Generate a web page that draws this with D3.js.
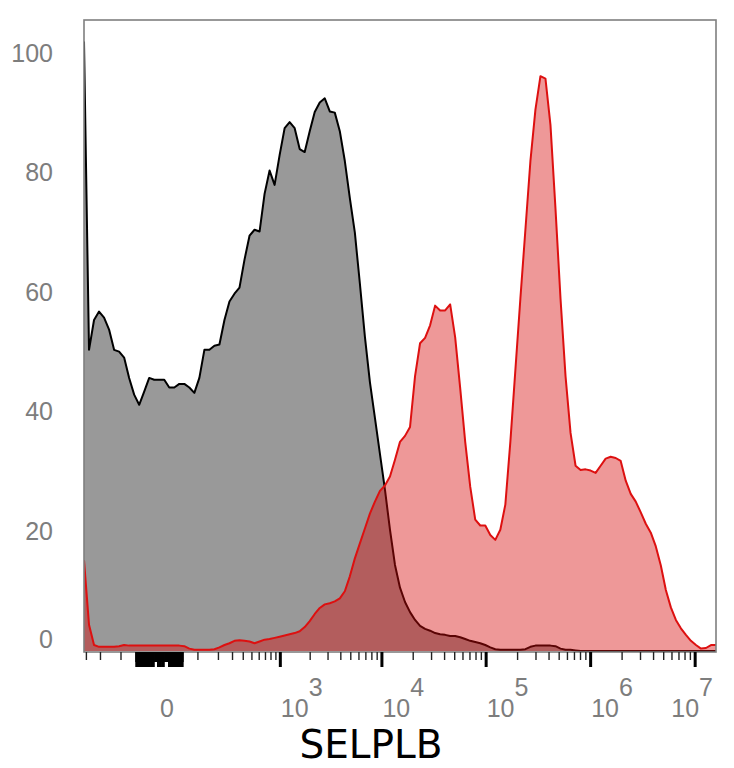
<!DOCTYPE html>
<html>

<head>
    <meta charset="utf-8" />
    <title>SELPLB histogram</title>
    <script src="https://cdn.jsdelivr.net/npm/d3@7/dist/d3.min.js" charset="utf-8"></script>

    <style type="text/css">
        body {
            margin: 0;
            background: #fff;
        }

        #chart .frame {
            fill: none;
            stroke: #7f7f7f;
            stroke-width: 1.6px;
        }

        #chart .y-axis text {
            font-family: "Liberation Sans", Arial, sans-serif;
            font-size: 25px;
            fill: #7d7d7d;
        }

        #chart .x-label {
            font-family: "Liberation Sans", Arial, sans-serif;
            font-size: 25px;
            fill: #7d7d7d;
        }

        #chart .title {
            font-family: "DejaVu Sans", sans-serif;
            font-size: 39px;
            fill: #000;
        }
    </style>
</head>

<body>

    <div id="chart"></div>

    <script>
        // Histogram counts (% of max) per display channel, channels evenly spaced on the biex axis:
        var greyCounts = [
            102, 50.4, 55.4, 56.8, 55.8, 53.8, 50.4, 50.1, 49.1, 45.7,
            42.9, 41.2, 43.4, 45.7, 45.4, 45.4, 45.4, 44.1, 44.1, 44.7,
            44.7, 44.1, 43.2, 45.7, 50.4, 50.4, 51.1, 51.3, 55.4, 58.5,
            59.8, 60.8, 65.5, 69.5, 70.5, 70.2, 76.5, 80.4, 78, 83,
            87.5, 88.5, 87.5, 84, 83.5, 87, 90.2, 91.8, 92.5, 90.3,
            90.1, 87, 82, 75.8, 70, 61.5, 52.6, 45, 39, 33,
            27, 20.3, 14.4, 10.6, 8.2, 6.5, 5.2, 4.2, 3.7, 3.4,
            3, 2.8, 2.7, 2.5, 2.5, 2.3, 2, 1.7, 1.5, 1.3,
            1, 0.6, 0.3, 0.2, 0.2, 0.2, 0.2, 0.2, 0.3, 0.7,
            0.9, 0.9, 0.9, 0.9, 0.8, 0.4, 0.2, 0.2, 0.1, 0,
            0, 0, 0, 0, 0, 0, 0, 0, 0, 0,
            0, 0, 0, 0, 0, 0, 0, 0, 0, 0,
            0, 0, 0, 0, 0, 0, 0
        ]

        var redCounts = [
            15.2, 4.4, 1.0, 0.7, 0.7, 0.7, 0.7, 0.8, 1.0, 0.9,
            0.9, 0.9, 0.9, 0.9, 0.9, 0.9, 0.9, 0.9, 0.9, 0.9,
            0.8, 0.4, 0.2, 0.2, 0.2, 0.2, 0.3, 0.6, 1.0, 1.3,
            1.7, 1.8, 1.7, 1.6, 1.3, 1.6, 1.9, 2.0, 2.2, 2.4,
            2.6, 2.8, 3.0, 3.3, 4.0, 5.0, 6.2, 7.2, 7.8, 8.0,
            8.3, 8.8, 10, 12.5, 15.5, 18, 20.5, 23, 25, 26.8,
            27.7, 29.2, 32, 35, 36, 37.5, 46, 51.5, 52.4, 54.5,
            57.8, 57, 57, 58, 52.5, 44, 35, 27.5, 22, 21,
            21, 19.4, 18.6, 20.3, 24.5, 35, 47, 59, 70.5, 82,
            90.6, 96.2, 95.8, 88, 74, 59, 46, 36.5, 31, 30.3,
            30.4, 30.2, 29.8, 31, 32.2, 32.5, 32.3, 31.8, 28.5, 26.3,
            25, 23.2, 21.3, 19.8, 17.5, 14.3, 10.2, 7.3, 5.2, 3.8,
            2.7, 1.7, 1.0, 0.4, 0.5, 1.0, 1.0
        ]

        // Axis values:
        var yTicks = [0, 20, 40, 60, 80, 100]
        var xLabelTicks = [0, 1e3, 1e4, 1e5, 1e6, 1e7]
        var xNegativeTicks = [-300, -200, -100]
        var xLinearTicks = d3.range(-50, 50.1, 2.5)
        var xLinearShort = [-7.5, -5, 10, 12.5, 15]
        var decades = [2, 3, 4, 5, 6]
        var axisTitle = "SELPLB"

        // Dimensions:
        var width = 734,
            height = 768,
            plot = { left: 84, right: 716, top: 20, bottom: 652 }

        // Scales: biex-like display (symlog) for the values, channels are evenly spaced on it
        var xAxisScale = d3.scaleSymlog()
            .constant(75)
            .domain([-316, 1.6e7])
            .range([plot.left, plot.right])

        var x = d3.scaleLinear()
            .domain([0, greyCounts.length - 1])
            .range(xAxisScale.range())

        var y = d3.scaleLinear()
            .domain([0, 105.6])
            .range([plot.bottom - 1, plot.top])

        // Minor ticks 1..9 x 10^k, dropping the ones that carry a label:
        var xMinorTicks = []
        decades.forEach(function(k) {
            d3.range(1, 10).forEach(function(m) {
                if (k == 2 || m > 1) xMinorTicks.push(m * Math.pow(10, k))
            })
        })
        xMinorTicks = xMinorTicks.concat(xNegativeTicks)

        // Area + line generators:
        var area = d3.area()
            .x(function(d, i) { return x(i) })
            .y0(y(0))
            .y1(function(d) { return y(d) })

        var line = d3.line()
            .x(function(d, i) { return x(i) })
            .y(function(d) { return y(d) })

        // Create chart:
        var svg = d3.select("#chart")
            .append("svg")
            .attr("width", width)
            .attr("height", height)

        svg.append("clipPath").attr("id", "plot-clip")
            .append("rect")
            .attr("x", plot.left)
            .attr("y", plot.top)
            .attr("width", plot.right - plot.left)
            .attr("height", plot.bottom - plot.top)

        var g = svg.append("g").attr("clip-path", "url(#plot-clip)")

        // Control histogram (grey) underneath:
        g.append("path")
            .datum(greyCounts)
            .attr("d", area)
            .attr("fill", "#999999")

        g.append("path")
            .datum(greyCounts)
            .attr("d", line)
            .attr("fill", "none")
            .attr("stroke", "#000")
            .attr("stroke-width", 2)
            .attr("stroke-linejoin", "round")

        // Stained histogram (red) on top, translucent:
        g.append("path")
            .datum(redCounts)
            .attr("d", area)
            .attr("fill", "rgba(215, 10, 10, 0.42)")

        g.append("path")
            .datum(redCounts)
            .attr("d", line)
            .attr("fill", "none")
            .attr("stroke", "#dd1010")
            .attr("stroke-width", 2)
            .attr("stroke-linejoin", "round")

        // Frame:
        svg.append("rect")
            .attr("class", "frame")
            .attr("x", plot.left)
            .attr("y", plot.top)
            .attr("width", plot.right - plot.left)
            .attr("height", plot.bottom - plot.top)

        // X ticks (layers: minor, linear cluster around zero, decades):
        function tickLayer(values, size, strokeWidth, colour) {
            var axis = svg.append("g")
                .attr("transform", "translate(0, " + plot.bottom + ")")
                .call(d3.axisBottom(xAxisScale)
                    .tickValues(values)
                    .tickSize(size)
                    .tickFormat(""))
            axis.select(".domain").remove()
            axis.selectAll(".tick line")
                .attr("stroke", colour)
                .attr("stroke-width", strokeWidth)
            return axis
        }

        tickLayer(xMinorTicks, 8, 1.4, "#222")
        tickLayer(xLinearTicks, 10, 2, "#000")
        tickLayer(xLinearTicks.filter(function(v) { return xLinearShort.indexOf(v) < 0 }), 15, 2, "#000")
        tickLayer(xLabelTicks.slice(1), 15, 3, "#000")

        // X tick labels with superscript exponents:
        var labels = svg.append("g")
        xLabelTicks.forEach(function(v, i) {
            var last = i == xLabelTicks.length - 1
            var t = labels.append("text")
                .attr("class", "x-label")
                .attr("x", last ? plot.right - 3 : xAxisScale(v) + 1)
                .attr("y", 717)
                .attr("text-anchor", last ? "end" : "start")
            if (v == 0) {
                t.text("0")
            } else {
                t.append("tspan").text("10")
                t.append("tspan")
                    .attr("dy", -21)
                    .text(Math.round(Math.log10(v)))
            }
        })

        // Y axis (labels only):
        var yAxis = svg.append("g")
            .attr("class", "y-axis")
            .attr("transform", "translate(" + plot.left + ", 0)")
            .call(d3.axisLeft(y).tickValues(yTicks).tickSize(0).tickPadding(31))
        yAxis.select(".domain").remove()
        yAxis.selectAll(".tick")
            .filter(function(d) { return d == 0 })
            .select("text")
            .attr("y", -12)

        // Axis title:
        svg.append("text")
            .attr("class", "title")
            .attr("x", 371)
            .attr("y", 758)
            .attr("text-anchor", "middle")
            .text(axisTitle)
    </script>

</body>

</html>
